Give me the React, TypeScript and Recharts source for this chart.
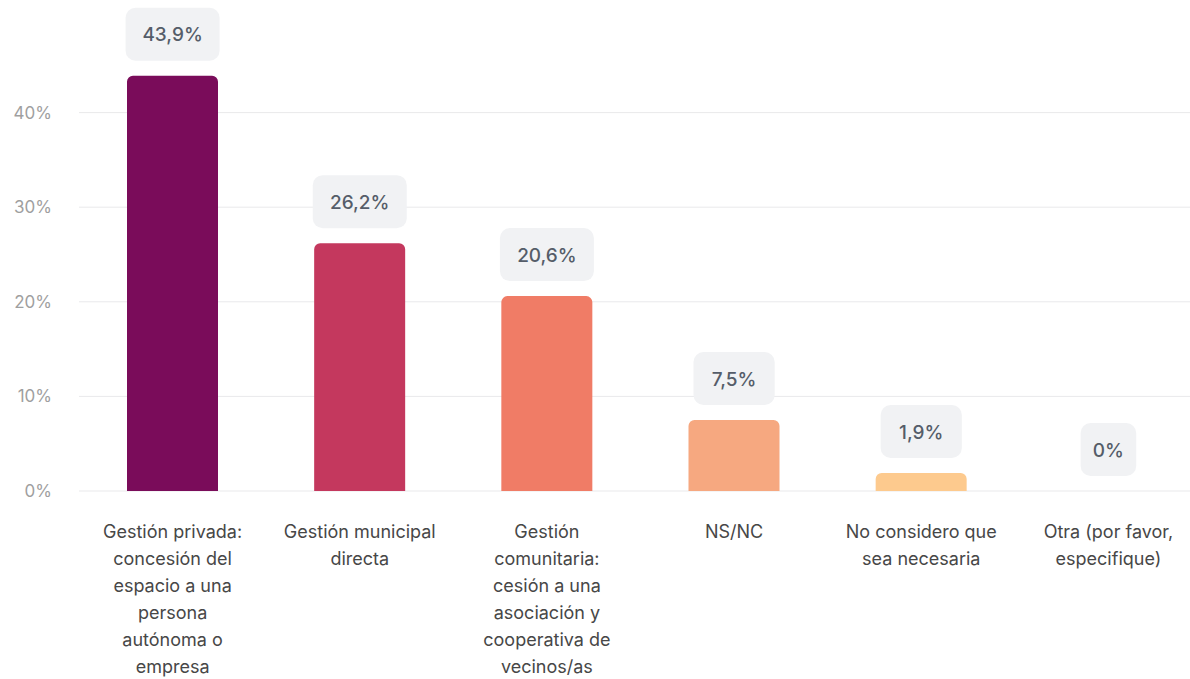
import { ComposedChart, Bar, Line, XAxis, YAxis, CartesianGrid, LabelList, Cell } from "recharts";

const CATEGORIES = [
  "Gestión privada:\nconcesión del\nespacio a una\npersona\nautónoma o\nempresa",
  "Gestión municipal\ndirecta",
  "Gestión\ncomunitaria:\ncesión a una\nasociación y\ncooperativa de\nvecinos/as",
  "NS/NC",
  "No considero que\nsea necesaria",
  "Otra (por favor,\nespecifique)",
];
const VALUES = [43.9, 26.2, 20.6, 7.5, 1.9, 0];
const BAR_COLORS = ["#7a0c5a", "#c4385e", "#f07c66", "#f6a880", "#fdca8e", "#fde3b0"];
const Y_TICKS = [0, 10, 20, 30, 40];

const FONT = "Inter, 'Noto Sans', sans-serif";

const data = CATEGORIES.map((name, i) => ({ name, value: VALUES[i] }));

function fmt(v: number): string {
  return `${String(v).replace(".", ",")}%`;
}

function CategoryTick(props: any) {
  const { x, y, payload } = props;
  const lines = String(payload.value).split("\n");
  return (
    <text x={x} y={y} textAnchor="middle" fill="#474747" fontSize={18} fontFamily={FONT}>
      {lines.map((line, i) => (
        <tspan key={i} x={x} dy={i === 0 ? 47 : 27}>
          {line}
        </tspan>
      ))}
    </text>
  );
}

// labels ride on an invisible line so the 0% entry still gets a badge
function ValueBadge(props: any) {
  const { x, y, value } = props;
  const text = fmt(Number(value));
  const w = 30 + text.length * 12.8;
  const h = 53;
  const cx = Number(x);
  const bottom = Number(y) - 15;
  return (
    <g>
      <rect x={cx - w / 2} y={bottom - h} width={w} height={h} rx={10} fill="#f1f2f4" />
      <text
        x={cx}
        y={bottom - h / 2 + 7}
        textAnchor="middle"
        fill="#555d69"
        fontSize={19}
        fontWeight={500}
        fontFamily={FONT}
      >
        {text}
      </text>
    </g>
  );
}

export default function App() {
  return (
    <div
      style={{
        position: "fixed",
        top: 0,
        left: 0,
        width: 1190,
        height: 679,
        overflow: "hidden",
        background: "#fff",
      }}
    >
      <ComposedChart
        width={1202}
        height={679}
        data={data}
        margin={{ top: 18, right: 0, bottom: 8, left: 0 }}
        barSize={91}
      >
        <CartesianGrid vertical={false} stroke="#e9e9eb" horizontalValues={Y_TICKS} />
        <XAxis
          dataKey="name"
          axisLine={false}
          tickLine={false}
          tickSize={0}
          tickMargin={0}
          height={180}
          interval={0}
          tick={<CategoryTick />}
        />
        <YAxis
          width={79}
          domain={[0, 50]}
          ticks={Y_TICKS}
          axisLine={false}
          tickLine={false}
          tickSize={0}
          tickMargin={27}
          tickFormatter={(v: number) => `${v}%`}
          tick={{ fill: "#9f9f9f", fontSize: 17, fontFamily: FONT }}
        />
        <Bar dataKey="value" radius={[6, 6, 0, 0]} isAnimationActive={false}>
          {data.map((d, i) => (
            <Cell key={d.name} fill={BAR_COLORS[i]} />
          ))}
        </Bar>
        <Line
          dataKey="value"
          stroke="none"
          dot={false}
          activeDot={false}
          legendType="none"
          isAnimationActive={false}
        >
          <LabelList dataKey="value" content={<ValueBadge />} />
        </Line>
      </ComposedChart>
    </div>
  );
}
